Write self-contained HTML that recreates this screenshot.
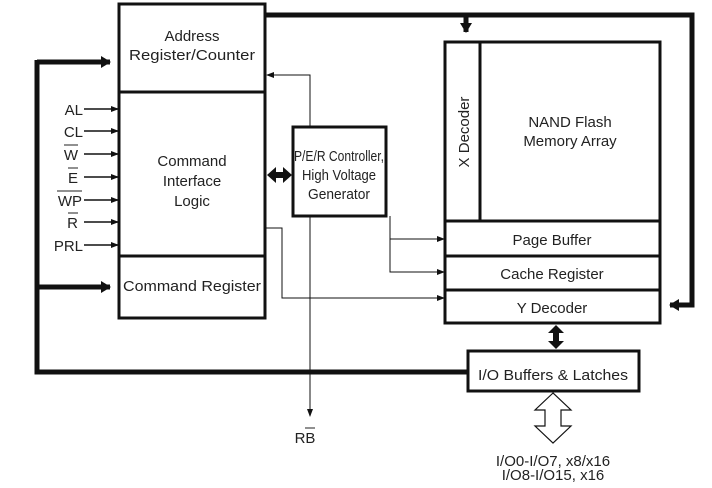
<!DOCTYPE html>
<html><head><style>
body{margin:0;background:#fff;}
svg text{font-family:"Liberation Sans",Arial,sans-serif;font-size:15px;fill:#222;}
</style></head><body>
<svg width="712" height="483" viewBox="0 0 712 483" xmlns="http://www.w3.org/2000/svg">
<defs>
<marker id="a" markerWidth="8" markerHeight="8" refX="7" refY="4" orient="auto" markerUnits="userSpaceOnUse"><path d="M0,1 L8,4 L0,7 z" fill="#111"/></marker>
<marker id="b" markerWidth="10" markerHeight="12" refX="9" refY="6" orient="auto" markerUnits="userSpaceOnUse"><path d="M0,0 L10,6 L0,12 z" fill="#111"/></marker>
</defs>
<g fill="none" stroke="#111">
<rect x="119" y="4" width="146" height="314" stroke-width="3"/>
<line x1="119" y1="92" x2="265" y2="92" stroke-width="3"/>
<line x1="119" y1="256" x2="265" y2="256" stroke-width="3"/>
<rect x="293" y="127" width="93" height="89" stroke-width="3"/>
<rect x="445" y="42" width="215" height="281" stroke-width="3"/>
<line x1="480" y1="42" x2="480" y2="221" stroke-width="3"/>
<line x1="445" y1="221" x2="660" y2="221" stroke-width="3"/>
<line x1="445" y1="256" x2="660" y2="256" stroke-width="3"/>
<line x1="445" y1="290" x2="660" y2="290" stroke-width="3"/>
<rect x="468" y="351" width="171" height="40" stroke-width="3"/>
<polyline points="265,15 692,15 692,305 670,305" stroke-width="5" marker-end="url(#b)"/>
<line x1="466" y1="15" x2="466" y2="32" stroke-width="5" marker-end="url(#b)"/>
<polyline points="37,60 37,372 468,372" stroke-width="5"/>
<line x1="37" y1="62" x2="110" y2="62" stroke-width="5" marker-end="url(#b)"/>
<line x1="37" y1="287" x2="110" y2="287" stroke-width="5" marker-end="url(#b)"/>
<g stroke-width="1.5">
<line x1="84" y1="109" x2="118" y2="109" marker-end="url(#a)"/>
<line x1="84" y1="131" x2="118" y2="131" marker-end="url(#a)"/>
<line x1="84" y1="154" x2="118" y2="154" marker-end="url(#a)"/>
<line x1="84" y1="177" x2="118" y2="177" marker-end="url(#a)"/>
<line x1="84" y1="200" x2="118" y2="200" marker-end="url(#a)"/>
<line x1="84" y1="222" x2="118" y2="222" marker-end="url(#a)"/>
<line x1="84" y1="245" x2="118" y2="245" marker-end="url(#a)"/>
</g>
<g stroke-width="1">
<polyline points="310,127 310,75 267,75" marker-end="url(#a)"/>
<polyline points="310,216 310,416" marker-end="url(#a)"/>
<polyline points="265,228 282,228 282,298 444,298" marker-end="url(#a)"/>
<polyline points="390,216 390,272 444,272" marker-end="url(#a)"/>
<polyline points="390,239 444,239" marker-end="url(#a)"/>
</g>
</g>
<path d="M267,175 L276,167 L276,172 L283,172 L283,167 L292,175 L283,183 L283,178 L276,178 L276,183 z" fill="#111"/>
<path d="M556,325 L548,333 L553,333 L553,341 L548,341 L556,349 L564,341 L559,341 L559,333 L564,333 z" fill="#111"/>
<path d="M553,393 L535,410 L545,410 L545,426 L535,426 L553,443 L571,426 L561,426 L561,410 L571,410 z" fill="#fff" stroke="#111" stroke-width="1.2"/>
<g text-anchor="middle">
<text x="192" y="41">Address</text>
<text x="192" y="60" textLength="126" lengthAdjust="spacingAndGlyphs">Register/Counter</text>
<text x="192" y="166">Command</text>
<text x="192" y="186">Interface</text>
<text x="192" y="206">Logic</text>
<text x="192" y="291" textLength="138" lengthAdjust="spacingAndGlyphs">Command Register</text>
<text x="339" y="161" textLength="90" lengthAdjust="spacingAndGlyphs">P/E/R Controller,</text>
<text x="339" y="180" textLength="74" lengthAdjust="spacingAndGlyphs">High Voltage</text>
<text x="339" y="199" textLength="62" lengthAdjust="spacingAndGlyphs">Generator</text>
<text x="570" y="127">NAND Flash</text>
<text x="570" y="146">Memory Array</text>
<text x="552" y="245">Page Buffer</text>
<text x="552" y="279">Cache Register</text>
<text x="552" y="313">Y Decoder</text>
<text x="553" y="380" textLength="150" lengthAdjust="spacingAndGlyphs">I/O Buffers &amp; Latches</text>
<text x="553" y="466">I/O0-I/O7, x8/x16</text>
<text x="553" y="480">I/O8-I/O15, x16</text>
<text x="305" y="443">RB</text>
<text transform="translate(469,132) rotate(-90)">X Decoder</text>
</g>
<g text-anchor="end">
<text x="83" y="115">AL</text>
<text x="83" y="137">CL</text>
<text x="78" y="160">W</text>
<text x="78" y="183">E</text>
<text x="82" y="206">WP</text>
<text x="78" y="228">R</text>
<text x="83" y="251">PRL</text>
</g>
<g stroke="#222" stroke-width="1">
<line x1="64" y1="145" x2="78" y2="145"/>
<line x1="68" y1="168" x2="78" y2="168"/>
<line x1="57" y1="191" x2="82" y2="191"/>
<line x1="68" y1="213" x2="78" y2="213"/>
<line x1="305" y1="428" x2="315" y2="428"/>
</g>
</svg>
</body></html>
